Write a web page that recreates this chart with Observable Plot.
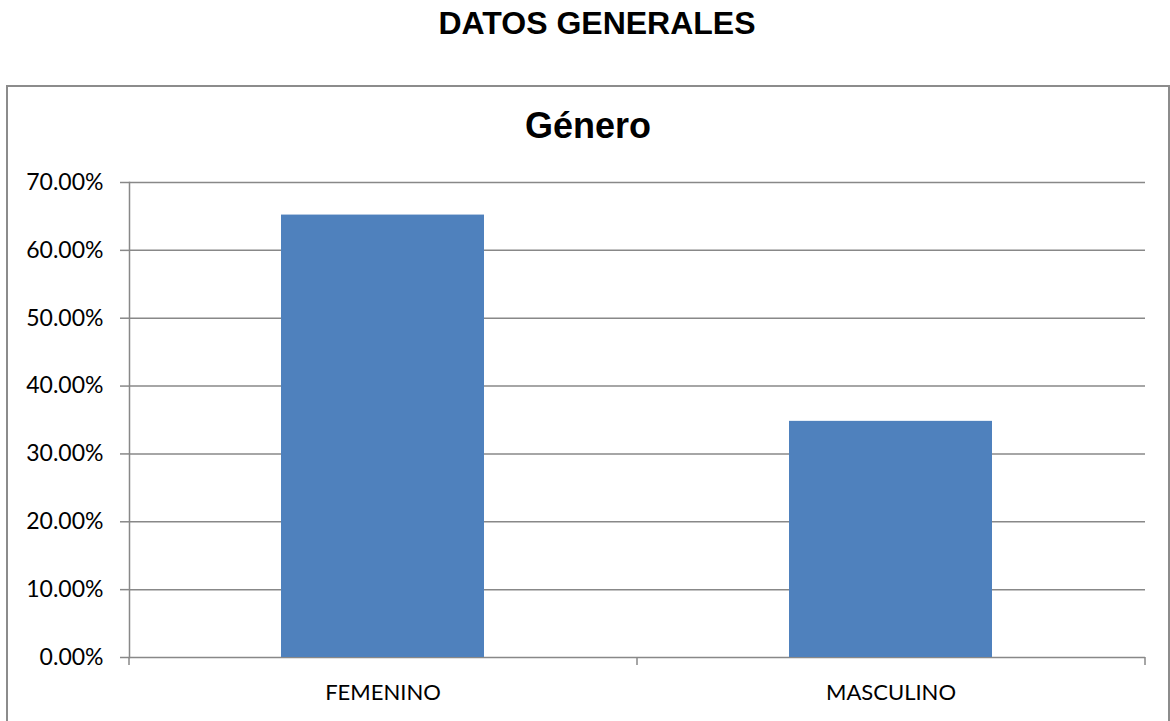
<!DOCTYPE html>
<html>
<head>
<meta charset="utf-8">
<script src="https://cdn.jsdelivr.net/npm/d3@7"></script>
<script src="https://cdn.jsdelivr.net/npm/@observablehq/plot@0.6"></script>
<style>
  html, body { margin: 0; padding: 0; background: #fff; }
  #page { position: relative; width: 1170px; height: 721px; overflow: hidden; background: #fff; }
  #maintitle { position: absolute; left: 0; width: 1194px; top: 5px; text-align: center;
    font-family: "Liberation Sans", Arial, sans-serif; font-weight: bold; font-size: 32px; color: #000; line-height: 36px; }
  #box { position: absolute; left: 6px; top: 85px; width: 1164px; height: 700px; border: 2px solid #8c8c8c; box-sizing: border-box; }
  #charttitle { position: absolute; left: 6px; width: 1164px; top: 106px; text-align: center;
    font-family: "Liberation Sans", Arial, sans-serif; font-weight: bold; font-size: 36px; color: #000; line-height: 40px; }
  #chart { position: absolute; left: 0; top: 0; }
</style>
</head>
<body>
<div id="page">
  <div id="maintitle">DATOS GENERALES</div>
  <div id="box"></div>
  <div id="charttitle">Género</div>
  <div id="chart"></div>
</div>
<script>
const categories = ["FEMENINO", "MASCULINO"];
const values = [0.652, 0.348];
const yTicks = [0, 0.1, 0.2, 0.3, 0.4, 0.5, 0.6, 0.7];

const data = categories.map((c, i) => ({genero: c, pct: values[i]}));

const axisColor = "#888888";
const labelFont = "Lato, 'Open Sans', sans-serif";

function boundaryTicks() {
  return (index, scales, values, dimensions, context) => {
    const {width, height, marginLeft, marginRight, marginBottom} = dimensions;
    const n = categories.length;
    const w = (width - marginLeft - marginRight) / n;
    const g = d3.create("svg:g");
    const y0 = height - marginBottom;
    for (let k = 0; k <= n; k++) {
      const x = marginLeft + k * w;
      g.append("line")
        .attr("x1", x).attr("x2", x)
        .attr("y1", y0).attr("y2", y0 + 8)
        .attr("stroke", axisColor).attr("stroke-width", 1.5);
    }
    return g.node();
  };
}

const chart = Plot.plot({
  width: 1170,
  height: 721,
  marginLeft: 129,
  marginRight: 25,
  marginTop: 182,
  marginBottom: 64,
  style: {background: "transparent", fontFamily: labelFont, overflow: "visible"},
  x: {domain: categories, paddingInner: 0.6, paddingOuter: 0.3, label: null},
  y: {domain: [0, 0.7], label: null},
  marks: [
    Plot.gridY(yTicks, {stroke: axisColor, strokeOpacity: 1, strokeWidth: 1.5}),
    Plot.barY(data, {x: "genero", y: "pct", fill: "#4f81bd"}),
    Plot.axisY(yTicks, {
      tickFormat: d3.format(".2%"), tickSize: 9, tickPadding: 17,
      stroke: axisColor, strokeWidth: 1.5, fontSize: 23, fill: "#000", label: null
    }),
    Plot.axisX({tickSize: 0, tickPadding: 27, fontSize: 22, fill: "#000", label: null}),
    Plot.frame({anchor: "left", stroke: axisColor, strokeWidth: 1.5}),
    boundaryTicks()
  ]
});
document.getElementById("chart").appendChild(chart);
</script>
</body>
</html>
